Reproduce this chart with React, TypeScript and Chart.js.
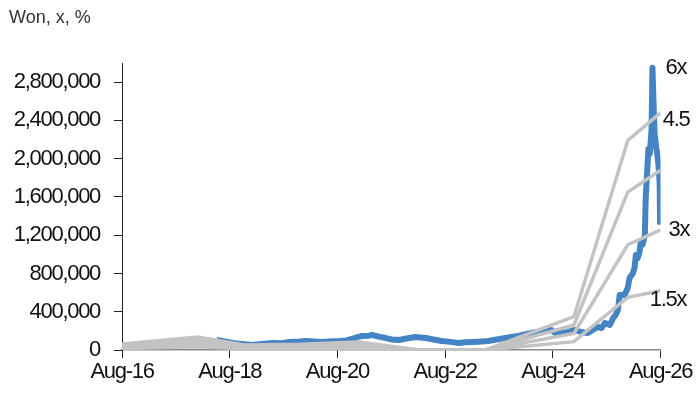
import { useEffect, useRef } from 'react';
import { Chart, registerables } from 'chart.js';

Chart.register(...registerables);

// ---- data ----
const chartTitle = 'Won, x, %';
const xTickLabels = ['Aug-16', 'Aug-18', 'Aug-20', 'Aug-22', 'Aug-24', 'Aug-26'];
const yTickValues = [0, 400000, 800000, 1200000, 1600000, 2000000, 2400000, 2800000];

// share price, months since Aug-2016
const priceMonths = [
  21.1, 22.9, 25.1, 27.3, 29.1, 31.1, 33.5, 35.7, 37.3, 39.5, 41.0, 42.8, 44.6, 46.8, 48.4, 49.9,
  51.2, 52.4, 53.5, 55.0, 55.7, 57.2, 58.8, 60.1, 61.7, 63.4, 65.4, 67.7, 69.4, 71.2, 73.2, 75.0,
  76.5, 77.9, 79.4, 81.6, 83.8, 86.1, 88.3, 90.5, 92.7, 94.3, 95.4, 96.5, 97.6, 98.7, 99.8, 100.9,
  102.3, 103.8, 104.9, 106.0, 106.9, 107.6, 108.7, 109.4, 110.0, 110.5, 110.9, 112.0, 112.7, 113.1,
  113.8, 114.2, 114.5, 114.9, 115.3, 115.6, 116.0, 116.5, 116.7, 117.1, 117.3, 117.6, 117.8, 118.0,
  118.2, 118.5, 118.7, 119.1, 119.3, 119.6, 119.8, 119.9,
];
const priceValues = [
  104000, 90000, 70000, 60000, 52000, 62000, 73000, 70000, 83000, 88000, 94000, 88000, 83000, 92000, 94000, 100000,
  115000, 135000, 146000, 150000, 157000, 140000, 125000, 110000, 104000, 120000, 136000, 125000, 110000, 94000, 85000, 73000,
  80000, 83000, 87000, 94000, 112000, 130000, 146000, 170000, 191000, 205000, 219000, 178000, 185000, 178000, 195000, 209000,
  188000, 178000, 209000, 240000, 230000, 282000, 261000, 330000, 366000, 418000, 575000, 575000, 650000, 752000,
  800000, 856000, 992000, 960000, 1020000, 1130000, 1100000, 1200000, 1590000, 1930000, 2100000, 2050000, 2170000, 2300000,
  2950000, 2500000, 2250000, 2100000, 2040000, 1900000, 1750000, 1310000,
];

// multiple bands, months since Aug-2016
const bandMonths = [0, 16.9, 27.3, 39.5, 52.8, 66.1, 81.0, 100.7, 112.7, 120];
const band6x = [63000, 136000, 52000, 60000, 83000, 0, 0, 348000, 2190000, 2480000];
const band45x = [47000, 102000, 39000, 45000, 62000, 0, 0, 261000, 1650000, 1880000];
const band3x = [31500, 68000, 26000, 30000, 41000, 0, 0, 174000, 1100000, 1255000];
const band15x = [16000, 34000, 13000, 15000, 21000, 0, 0, 87000, 550000, 620000];

const bandLabels = ['6x', '4.5', '3x', '1.5x'];
const bandLabelMonths = [121.1, 120.5, 121.8, 117.6];
const bandLabelValues = [2950000, 2400000, 1260000, 520000];

const FONT = '"Liberation Sans", Arial, sans-serif';
const TIGHT = '-1.3px';

export default function App() {
  const ref = useRef<HTMLCanvasElement | null>(null);

  useEffect(() => {
    if (!ref.current) return;
    const toPts = (xs: number[], ys: number[]) => xs.map((x, i) => ({ x, y: ys[i] }));
    const grey = '#c3c3c3';
    const bandSets = [band6x, band45x, band3x, band15x].map((vals, i) => ({
      label: bandLabels[i],
      data: toPts(bandMonths, vals),
      borderColor: grey,
      borderWidth: 3.5,
      pointRadius: 0,
      tension: 0,
      order: 0,
    }));

    const textPlugin = {
      id: 'textPlugin',
      beforeDraw(chart: any) {
        // condensed look for axis text (Arial Narrow is not installed)
        chart.ctx.letterSpacing = TIGHT;
      },
      afterDraw(chart: any) {
        const { ctx, scales } = chart;
        ctx.save();
        ctx.letterSpacing = TIGHT;
        ctx.font = `22px ${FONT}`;
        ctx.fillStyle = '#111';
        ctx.textAlign = 'left';
        ctx.textBaseline = 'middle';
        bandLabels.forEach((t, i) => {
          ctx.fillText(
            t,
            scales.x.getPixelForValue(bandLabelMonths[i]),
            scales.y.getPixelForValue(bandLabelValues[i])
          );
        });
        ctx.letterSpacing = '0px';
        ctx.font = `18px ${FONT}`;
        ctx.fillStyle = '#333';
        ctx.fillText(chartTitle, 9, 18);
        ctx.restore();
        ctx.letterSpacing = '0px';
      },
    };

    const chart = new Chart(ref.current, {
      type: 'line',
      data: {
        datasets: [
          ...bandSets,
          {
            label: 'Price',
            data: toPts(priceMonths, priceValues),
            borderColor: '#4584c4',
            borderWidth: 6,
            pointRadius: 0,
            tension: 0,
            borderJoinStyle: 'round',
            order: 1,
          },
        ],
      },
      options: {
        responsive: false,
        animation: false,
        layout: { padding: { left: 9, right: 34, top: 63, bottom: 0 } },
        plugins: {
          legend: { display: false },
          tooltip: { enabled: false },
          title: { display: false },
        },
        scales: {
          x: {
            type: 'linear',
            min: 0,
            max: 120,
            ticks: {
              stepSize: 24,
              autoSkip: false,
              maxRotation: 0,
              padding: 1,
              color: '#111',
              font: { size: 22, family: FONT },
              callback: (v: any) => xTickLabels[Math.round(Number(v) / 24)] ?? '',
            },
            grid: { drawOnChartArea: false, drawTicks: true, tickLength: 8, color: '#222' },
            border: { display: true, color: '#8a8a8a', width: 1.5 },
            afterFit: (s: any) => {
              s.height = 50;
            },
          },
          y: {
            min: 0,
            max: 3000000,
            ticks: {
              padding: 14,
              color: '#111',
              font: { size: 22, family: FONT },
              callback: (v: any) => Number(v).toLocaleString('en-US'),
            },
            afterBuildTicks: (s: any) => {
              s.ticks = yTickValues.map((value) => ({ value }));
            },
            grid: { drawOnChartArea: false, drawTicks: true, tickLength: 8, color: '#222' },
            border: { display: true, color: '#222', width: 1 },
            afterFit: (s: any) => {
              s.width = 113;
            },
          },
        },
      },
      plugins: [textPlugin],
    } as any);

    return () => chart.destroy();
  }, []);

  return (
    <div style={{ position: 'fixed', left: 0, top: 0, width: 697, height: 400, background: '#fff' }}>
      <canvas ref={ref} width={697} height={400} />
    </div>
  );
}
